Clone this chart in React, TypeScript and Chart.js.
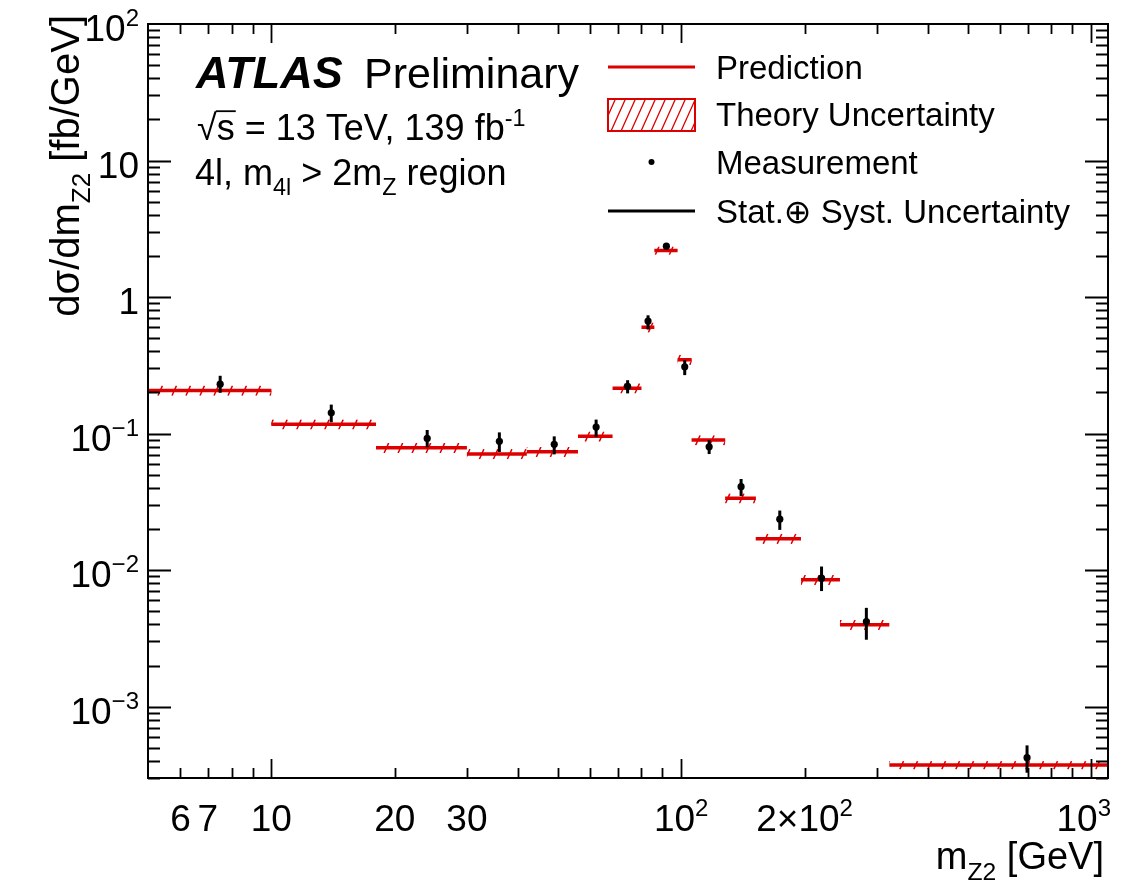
import React, { useEffect, useRef } from "react";
import { Chart, registerables } from "chart.js";

Chart.register(...registerables);

// ---- data ----
const binEdges = [5, 10, 18, 30, 42, 56, 68, 80, 86, 98, 106, 128, 152, 196, 244, 322, 1100];
const prediction = [0.207, 0.117, 0.0787, 0.0709, 0.0736, 0.0954, 0.215, 0.6, 2.19, 0.348, 0.0896, 0.0336, 0.017, 0.00849, 0.00398, 0.000373];
const theoryRelUnc = [0.085, 0.085, 0.085, 0.085, 0.085, 0.085, 0.085, 0.085, 0.07, 0.085, 0.085, 0.085, 0.085, 0.085, 0.085, 0.07];
const measX = [7.5, 14, 24, 36, 49, 62, 74, 83, 92, 102, 117, 140, 174, 220, 283, 698];
const measY = [0.23, 0.142, 0.0922, 0.0877, 0.0834, 0.1116, 0.222, 0.667, 2.36, 0.308, 0.08, 0.0408, 0.0236, 0.00872, 0.00419, 0.000423];
const errUp = [0.035, 0.021, 0.014, 0.0143, 0.012, 0.015, 0.024, 0.068, 0.08, 0.037, 0.0096, 0.0057, 0.0037, 0.0019, 0.0011, 0.000097];
const errDown = [0.031, 0.021, 0.0127, 0.0144, 0.013, 0.017, 0.025, 0.089, 0.08, 0.04, 0.0092, 0.0059, 0.0039, 0.0017, 0.0011, 0.000095];

const xLabelValues = [6, 7, 10, 20, 30, 100, 200, 1000];
const xLabelBase = ["6", "7", "10", "20", "30", "10", "2\u00d710", "10"];
const xLabelExp = ["", "", "", "", "", "2", "2", "3"];
const yLabelValues = [100, 10, 1, 0.1, 0.01, 0.001];
const yLabelBase = ["10", "10", "1", "10", "10", "10"];
const yLabelExp = ["2", "", "", "\u22121", "\u22122", "\u22123"];

const X_MIN = 5;
const X_MAX = 1100;
const Y_MIN = 3e-4;
const Y_MAX = 100;

const RED = "#dd0000";
const FAMILY = '"Liberation Sans", "DejaVu Sans", Arial, sans-serif';

type Seg = { t: string; k?: "sup" | "sub"; b?: boolean; i?: boolean };

function fontStr(size: number, b?: boolean, i?: boolean) {
  return `${i ? "italic " : ""}${b ? "bold " : ""}${size}px ${FAMILY}`;
}

function segSize(s: Seg, size: number) {
  return s.k ? size * 0.65 : size;
}

function richWidth(ctx: CanvasRenderingContext2D, segs: Seg[], size: number) {
  let w = 0;
  for (const s of segs) {
    ctx.font = fontStr(segSize(s, size), s.b, s.i);
    w += ctx.measureText(s.t).width;
  }
  return w;
}

function drawRich(
  ctx: CanvasRenderingContext2D,
  segs: Seg[],
  x: number,
  y: number,
  size: number,
  align: "left" | "right" | "center"
) {
  const w = richWidth(ctx, segs, size);
  let cx = align === "left" ? x : align === "right" ? x - w : x - w / 2;
  const x0 = cx;
  ctx.textAlign = "left";
  ctx.textBaseline = "alphabetic";
  for (const s of segs) {
    const sz = segSize(s, size);
    ctx.font = fontStr(sz, s.b, s.i);
    const dy = s.k === "sup" ? -0.4 * size : s.k === "sub" ? 0.28 * size : 0;
    ctx.fillText(s.t, cx, y + dy);
    cx += ctx.measureText(s.t).width;
  }
  return { x0, w };
}

function hatchRect(
  ctx: CanvasRenderingContext2D,
  x0: number,
  y0: number,
  x1: number,
  y1: number,
  spacing: number,
  k: number,
  lw: number
) {
  ctx.save();
  ctx.beginPath();
  ctx.rect(x0, y0, x1 - x0, y1 - y0);
  ctx.clip();
  ctx.strokeStyle = RED;
  ctx.lineWidth = lw;
  ctx.beginPath();
  const cMin = x0 + y0 * k - spacing;
  const cMax = x1 + y1 * k + spacing;
  const start = Math.floor(cMin / spacing) * spacing;
  for (let c = start; c <= cMax; c += spacing) {
    ctx.moveTo(c - y1 * k, y1);
    ctx.lineTo(c - y0 * k, y0);
  }
  ctx.stroke();
  ctx.restore();
}

const rootPlugin = {
  id: "rootStyle",
  beforeDraw(chart: any) {
    const ctx = chart.ctx as CanvasRenderingContext2D;
    ctx.save();
    ctx.fillStyle = "#ffffff";
    ctx.fillRect(0, 0, chart.width, chart.height);
    ctx.restore();
  },
  beforeDatasetsDraw(chart: any) {
    const ctx = chart.ctx as CanvasRenderingContext2D;
    const xs = chart.scales.x;
    const ys = chart.scales.y;
    const area = chart.chartArea;
    ctx.save();
    ctx.beginPath();
    ctx.rect(area.left, area.top, area.right - area.left, area.bottom - area.top);
    ctx.clip();
    for (let i = 0; i < prediction.length; i++) {
      const xa = xs.getPixelForValue(binEdges[i]);
      const xb = xs.getPixelForValue(binEdges[i + 1]);
      const yt = ys.getPixelForValue(prediction[i] * (1 + theoryRelUnc[i]));
      const yb = ys.getPixelForValue(prediction[i] * (1 - theoryRelUnc[i]));
      hatchRect(ctx, xa, yt, xb, yb, 14, 0.45, 1.5);
    }
    ctx.restore();
  },
  afterDatasetDraw(chart: any, args: any) {
    if (args.index !== 1) return;
    const ctx = chart.ctx as CanvasRenderingContext2D;
    const xs = chart.scales.x;
    const ys = chart.scales.y;
    ctx.save();
    ctx.strokeStyle = "#000";
    ctx.lineWidth = 3;
    for (let i = 0; i < measX.length; i++) {
      const px = xs.getPixelForValue(measX[i]);
      const yTop = ys.getPixelForValue(measY[i] + errUp[i]);
      const yBot = ys.getPixelForValue(measY[i] - errDown[i]);
      ctx.beginPath();
      ctx.moveTo(px, yTop);
      ctx.lineTo(px, yBot);
      ctx.stroke();
    }
    ctx.restore();
  },
  afterDraw(chart: any) {
    const ctx = chart.ctx as CanvasRenderingContext2D;
    const xs = chart.scales.x;
    const ys = chart.scales.y;
    const a = chart.chartArea;
    ctx.save();
    ctx.fillStyle = "#000";
    ctx.strokeStyle = "#000";

    // ticks
    ctx.lineWidth = 1.8;
    ctx.beginPath();
    for (let e = 0; e <= 3; e++) {
      for (let d = 1; d <= 9; d++) {
        const v = d * Math.pow(10, e);
        if (v <= X_MIN || v >= X_MAX) continue;
        const px = Math.round(xs.getPixelForValue(v)) + 0.5;
        const len = d === 1 ? 19 : 10;
        ctx.moveTo(px, a.bottom);
        ctx.lineTo(px, a.bottom - len);
        ctx.moveTo(px, a.top);
        ctx.lineTo(px, a.top + len);
      }
    }
    for (let e = -4; e <= 2; e++) {
      for (let d = 1; d <= 9; d++) {
        const v = d * Math.pow(10, e);
        if (v <= Y_MIN * 0.999 || v >= Y_MAX * 0.999) continue;
        const py = Math.round(ys.getPixelForValue(v)) + 0.5;
        const len = d === 1 ? 23 : 12;
        ctx.moveTo(a.left, py);
        ctx.lineTo(a.left + len, py);
        ctx.moveTo(a.right, py);
        ctx.lineTo(a.right - len, py);
      }
    }
    ctx.stroke();

    // frame
    ctx.lineWidth = 2;
    ctx.strokeRect(a.left, a.top, a.right - a.left, a.bottom - a.top);

    // x tick labels
    const TS = 37;
    for (let i = 0; i < xLabelValues.length; i++) {
      const px = xs.getPixelForValue(xLabelValues[i]);
      const segs: Seg[] = [{ t: xLabelBase[i] }];
      if (xLabelExp[i]) segs.push({ t: xLabelExp[i], k: "sup" });
      const w = richWidth(ctx, segs, TS);
      let left = px - w / 2;
      if (left + w > chart.width - 18) left = chart.width - 18 - w;
      drawRich(ctx, segs, left, a.bottom + 53, TS, "left");
    }
    // y tick labels
    for (let i = 0; i < yLabelValues.length; i++) {
      const py = ys.getPixelForValue(yLabelValues[i]);
      const segs: Seg[] = [{ t: yLabelBase[i] }];
      if (yLabelExp[i]) segs.push({ t: yLabelExp[i], k: "sup" });
      drawRich(ctx, segs, a.left - 9, py + 17, TS, "right");
    }

    // axis titles
    drawRich(
      ctx,
      [{ t: "m" }, { t: "Z2", k: "sub" }, { t: " [GeV]" }],
      a.right - 4,
      a.bottom + 91,
      38,
      "right"
    );
    ctx.save();
    ctx.translate(79, 15);
    ctx.rotate(-Math.PI / 2);
    drawRich(
      ctx,
      [{ t: "d\u03c3/dm" }, { t: "Z2", k: "sub" }, { t: " [fb/GeV]" }],
      0,
      0,
      40,
      "right"
    );
    ctx.restore();

    // ATLAS label
    drawRich(ctx, [{ t: "ATLAS", b: true, i: true }], 196, 88, 45, "left");
    drawRich(ctx, [{ t: "Preliminary" }], 364, 88, 43, "left");

    // sqrt(s) line
    const IS = 36;
    ctx.font = fontStr(IS);
    const sqrtW = ctx.measureText("\u221a").width;
    ctx.textAlign = "left";
    ctx.fillText("\u221a", 197, 140);
    const sW = ctx.measureText("s").width;
    ctx.fillText("s", 197 + sqrtW, 140);
    ctx.lineWidth = 1.8;
    ctx.beginPath();
    ctx.moveTo(197 + sqrtW - 1, 140 - IS * 0.8);
    ctx.lineTo(197 + sqrtW + sW + 1, 140 - IS * 0.8);
    ctx.stroke();
    drawRich(
      ctx,
      [{ t: " = 13 TeV, 139 fb" }, { t: "-1", k: "sup" }],
      197 + sqrtW + sW,
      140,
      IS,
      "left"
    );
    drawRich(
      ctx,
      [
        { t: "4l, m" },
        { t: "4l", k: "sub" },
        { t: " > 2m" },
        { t: "Z", k: "sub" },
        { t: " region" },
      ],
      195,
      185,
      IS,
      "left"
    );

    // legend
    const LS = 33;
    const lx0 = 608;
    const lx1 = 695;
    const tx = 716;
    ctx.lineWidth = 3;
    ctx.strokeStyle = RED;
    ctx.beginPath();
    ctx.moveTo(lx0, 67);
    ctx.lineTo(lx1, 67);
    ctx.stroke();
    hatchRect(ctx, lx0, 99, lx1, 131, 10, 0.45, 1.3);
    ctx.lineWidth = 2;
    ctx.strokeStyle = RED;
    ctx.strokeRect(lx0, 99, lx1 - lx0, 32);
    ctx.fillStyle = "#000";
    ctx.beginPath();
    ctx.arc((lx0 + lx1) / 2, 162, 3, 0, Math.PI * 2);
    ctx.fill();
    ctx.strokeStyle = "#000";
    ctx.lineWidth = 3;
    ctx.beginPath();
    ctx.moveTo(lx0, 211);
    ctx.lineTo(lx1, 211);
    ctx.stroke();
    drawRich(ctx, [{ t: "Prediction" }], tx, 79, LS, "left");
    drawRich(ctx, [{ t: "Theory Uncertainty" }], tx, 126, LS, "left");
    drawRich(ctx, [{ t: "Measurement" }], tx, 174, LS, "left");
    drawRich(ctx, [{ t: "Stat.\u2295 Syst. Uncertainty" }], tx, 223, LS, "left");

    ctx.restore();
  },
};

export default function App() {
  const ref = useRef<HTMLCanvasElement>(null);
  useEffect(() => {
    const canvas = ref.current;
    if (!canvas) return;
    const predData: { x: number; y: number | null }[] = [];
    for (let i = 0; i < prediction.length; i++) {
      predData.push({ x: binEdges[i], y: prediction[i] });
      predData.push({ x: binEdges[i + 1], y: prediction[i] });
      predData.push({ x: binEdges[i + 1], y: null });
    }
    const measData = measX.map((x, i) => ({ x, y: measY[i] }));
    const chart = new Chart(canvas, {
      type: "scatter",
      data: {
        datasets: [
          {
            type: "scatter",
            label: "Measurement",
            data: measData,
            pointRadius: 3.6,
            pointBackgroundColor: "#000",
            pointBorderWidth: 0,
            backgroundColor: "#000",
          } as any,
          {
            type: "line",
            label: "Prediction",
            data: predData,
            borderColor: RED,
            borderWidth: 3.5,
            pointRadius: 0,
            fill: false,
            spanGaps: false,
            tension: 0,
          } as any,
        ],
      },
      options: {
        responsive: false,
        animation: false,
        devicePixelRatio: 1,
        events: [],
        layout: { padding: { left: 148, right: 21, top: 24, bottom: 107 } },
        plugins: { legend: { display: false }, tooltip: { enabled: false } },
        scales: {
          x: { type: "logarithmic", min: X_MIN, max: X_MAX, display: false },
          y: { type: "logarithmic", min: Y_MIN, max: Y_MAX, display: false },
        },
      } as any,
      plugins: [rootPlugin as any],
    });
    return () => chart.destroy();
  }, []);
  return (
    <canvas
      ref={ref}
      width={1129}
      height={885}
      style={{ position: "absolute", left: 0, top: 0, width: 1129, height: 885, display: "block" }}
    />
  );
}
